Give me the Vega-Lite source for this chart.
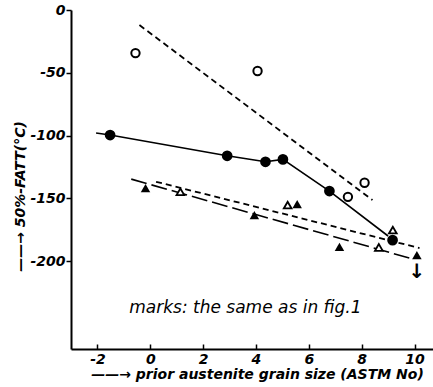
{
  "$schema": "https://vega.github.io/schema/vega-lite/v6.json",
  "width": 362,
  "height": 339,
  "autosize": "none",
  "padding": {"left": 71, "top": 10, "right": 0, "bottom": 38},
  "background": "white",
  "config": {
    "view": {"stroke": null},
    "font": "DejaVu Sans",
    "axis": {
      "domainColor": "black",
      "domainWidth": 2,
      "tickColor": "black",
      "tickWidth": 1.5,
      "grid": false,
      "labelColor": "black",
      "labelFont": "DejaVu Sans",
      "labelFontSize": 14,
      "labelFontStyle": "italic",
      "labelFontWeight": "bold",
      "titleColor": "black",
      "titleFont": "DejaVu Sans",
      "titleFontSize": 14,
      "titleFontStyle": "italic",
      "titleFontWeight": "bold"
    }
  },
  "datasets": {
    "pts": [
      {"x": -0.56, "y": -34.3, "s": "oc"},
      {"x": 4.06, "y": -48.6, "s": "oc"},
      {"x": 7.48, "y": -148.8, "s": "oc"},
      {"x": 8.11, "y": -137.6, "s": "oc"},
      {"x": -1.52, "y": -99.6, "s": "fc"},
      {"x": 2.91, "y": -116.1, "s": "fc"},
      {"x": 4.36, "y": -120.9, "s": "fc"},
      {"x": 5.02, "y": -119.0, "s": "fc"},
      {"x": 6.78, "y": -144.2, "s": "fc"},
      {"x": 9.17, "y": -183.3, "s": "fc"},
      {"x": 1.14, "y": -144.8, "s": "ot"},
      {"x": 5.2, "y": -155.4, "s": "ot"},
      {"x": 8.65, "y": -189.1, "s": "ot"},
      {"x": 9.18, "y": -175.3, "s": "ot"},
      {"x": -0.18, "y": -141.8, "s": "ft"},
      {"x": 3.94, "y": -163.3, "s": "ft"},
      {"x": 5.56, "y": -154.6, "s": "ft"},
      {"x": 7.16, "y": -188.6, "s": "ft"},
      {"x": 10.09, "y": -195.2, "s": "ft"}
    ],
    "lines": [
      {"x": -0.41, "y": -12.0, "l": "oc"},
      {"x": 8.41, "y": -151.4, "l": "oc"},
      {"x": -2.05, "y": -98.0, "l": "fc"},
      {"x": -1.52, "y": -99.6, "l": "fc"},
      {"x": 2.91, "y": -116.1, "l": "fc"},
      {"x": 4.36, "y": -120.9, "l": "fc"},
      {"x": 5.02, "y": -119.0, "l": "fc"},
      {"x": 6.78, "y": -144.2, "l": "fc"},
      {"x": 9.0, "y": -180.0, "l": "fc"},
      {"x": 0.22, "y": -136.8, "l": "ot"},
      {"x": 10.19, "y": -189.6, "l": "ot"},
      {"x": -0.72, "y": -134.7, "l": "ft"},
      {"x": 9.81, "y": -197.6, "l": "ft"}
    ],
    "labels": [
      {"x": 3.6, "y": -237, "t": "marks: the same as in fig.1", "k": "note"},
      {"x": 10.09, "y": -209, "t": "↓", "k": "arrow"}
    ]
  },
  "layer": [
    {
      "data": {"name": "lines"},
      "transform": [{"filter": "datum.l === 'oc'"}],
      "mark": {"type": "line", "color": "black", "strokeWidth": 1.8, "strokeDash": [6, 4]},
      "encoding": {
        "x": {"field": "x", "type": "quantitative", "scale": {"domain": [-3, 10.7], "nice": false, "zero": false},
          "axis": {
            "orient": "bottom",
            "values": [-2, -1, 0, 1, 2, 3, 4, 5, 6, 7, 8, 9, 10],
            "labelExpr": "datum.value % 2 === 0 ? toString(datum.value) : ''",
            "tickSize": -5,
            "labelPadding": 8,
            "title": "——→ prior austenite grain size (ASTM No)",
            "titleX": 186,
            "titleY": 25,
            "titleBaseline": "middle",
            "titleAlign": "center"
          }
        },
        "y": {"field": "y", "type": "quantitative", "scale": {"domain": [-270, 0], "nice": false, "zero": false},
          "axis": {
            "values": [0, -50, -100, -150, -200],
            "labelExpr": "toString(datum.value)",
            "tickSize": 5,
            "labelPadding": 1,
            "title": "——→  50%-FATT(°C)",
            "titleX": -51,
            "titleY": 186,
            "titleAngle": 270,
            "titleBaseline": "middle",
            "titleAlign": "center"
          }
        }
      }
    },
    {
      "data": {"name": "lines"},
      "transform": [{"filter": "datum.l === 'fc'"}],
      "mark": {"type": "line", "color": "black", "strokeWidth": 1.6},
      "encoding": {
        "x": {"field": "x", "type": "quantitative"},
        "y": {"field": "y", "type": "quantitative"}
      }
    },
    {
      "data": {"name": "lines"},
      "transform": [{"filter": "datum.l === 'ot'"}],
      "mark": {"type": "line", "color": "black", "strokeWidth": 1.8, "strokeDash": [6, 4]},
      "encoding": {
        "x": {"field": "x", "type": "quantitative"},
        "y": {"field": "y", "type": "quantitative"}
      }
    },
    {
      "data": {"name": "lines"},
      "transform": [{"filter": "datum.l === 'ft'"}],
      "mark": {"type": "line", "color": "black", "strokeWidth": 1.6, "strokeDash": [16, 5]},
      "encoding": {
        "x": {"field": "x", "type": "quantitative"},
        "y": {"field": "y", "type": "quantitative"}
      }
    },
    {
      "data": {"name": "pts"},
      "transform": [{"filter": "datum.s === 'oc'"}],
      "mark": {"type": "point", "shape": "circle", "filled": false, "stroke": "black", "strokeWidth": 2, "size": 70, "fill": "white", "fillOpacity": 1},
      "encoding": {
        "x": {"field": "x", "type": "quantitative"},
        "y": {"field": "y", "type": "quantitative"}
      }
    },
    {
      "data": {"name": "pts"},
      "transform": [{"filter": "datum.s === 'fc'"}],
      "mark": {"type": "point", "shape": "circle", "filled": true, "color": "black", "opacity": 1, "size": 115},
      "encoding": {
        "x": {"field": "x", "type": "quantitative"},
        "y": {"field": "y", "type": "quantitative"}
      }
    },
    {
      "data": {"name": "pts"},
      "transform": [{"filter": "datum.s === 'ot'"}],
      "mark": {"type": "point", "shape": "triangle-up", "filled": false, "stroke": "black", "strokeWidth": 1.8, "size": 60, "fill": "white", "fillOpacity": 1},
      "encoding": {
        "x": {"field": "x", "type": "quantitative"},
        "y": {"field": "y", "type": "quantitative"}
      }
    },
    {
      "data": {"name": "pts"},
      "transform": [{"filter": "datum.s === 'ft'"}],
      "mark": {"type": "point", "shape": "triangle-up", "filled": true, "color": "black", "opacity": 1, "size": 90},
      "encoding": {
        "x": {"field": "x", "type": "quantitative"},
        "y": {"field": "y", "type": "quantitative"}
      }
    },
    {
      "data": {"name": "labels"},
      "transform": [{"filter": "datum.k === 'note'"}],
      "mark": {"type": "text", "font": "DejaVu Sans", "fontSize": 17, "fontStyle": "italic", "color": "black", "align": "center", "baseline": "middle"},
      "encoding": {
        "x": {"field": "x", "type": "quantitative"},
        "y": {"field": "y", "type": "quantitative"},
        "text": {"field": "t"}
      }
    },
    {
      "data": {"name": "labels"},
      "transform": [{"filter": "datum.k === 'arrow'"}],
      "mark": {"type": "text", "font": "DejaVu Sans", "fontSize": 20, "fontWeight": "bold", "color": "black", "align": "center", "baseline": "middle"},
      "encoding": {
        "x": {"field": "x", "type": "quantitative"},
        "y": {"field": "y", "type": "quantitative"},
        "text": {"field": "t"}
      }
    },
    {
      "mark": {"type": "rule", "color": "black", "strokeWidth": 2},
      "encoding": {"y": {"datum": 0}}
    }
  ]
}
